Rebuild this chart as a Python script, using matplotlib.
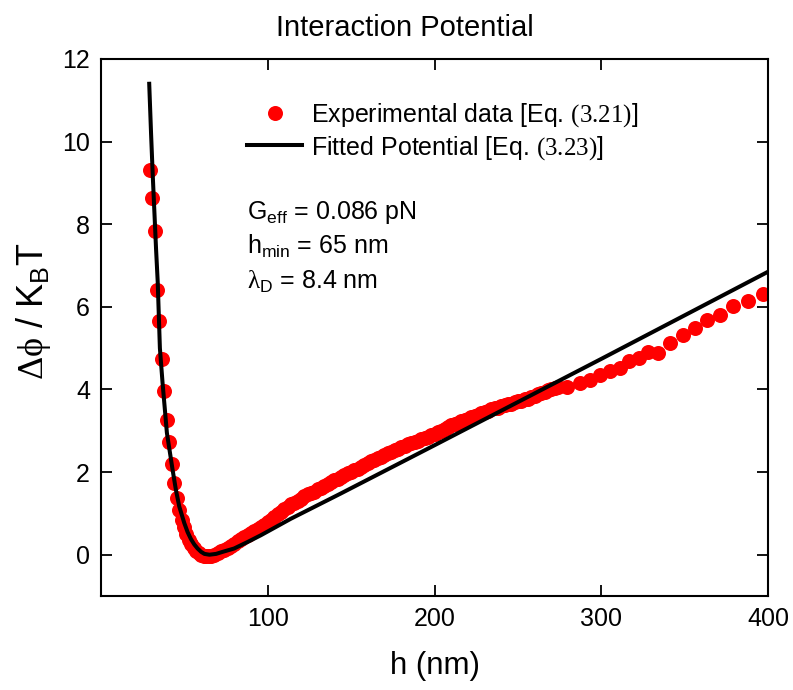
import numpy as np
import matplotlib
matplotlib.use("Agg")
import matplotlib.pyplot as plt

plt.rcParams['font.family'] = ['Liberation Sans', 'DejaVu Sans']
plt.rcParams['mathtext.fontset'] = 'custom'
plt.rcParams['mathtext.rm'] = 'Liberation Serif'
plt.rcParams['mathtext.sf'] = 'Liberation Sans'
plt.rcParams['mathtext.it'] = 'Liberation Sans:italic'

# experimental data, h (nm) and potential (kBT)
h_exp = [29.3, 30.5, 32.1, 33.5, 34.9, 36.3, 37.9, 39.5, 40.9, 42.5, 43.9, 45.5,
         46.9, 48.3, 49.7, 51.0, 52.5, 54.0, 55.5, 57.0, 58.5, 60.0, 61.5, 63.0,
         64.5,
         66, 68, 70, 72, 74, 76, 78, 80, 82, 84, 86, 88, 90, 92, 94, 96, 98,
         100, 102, 104, 106, 108, 110, 112, 114, 116, 118, 120, 122, 124, 126,
         128, 130, 132, 134, 136, 138, 140, 142, 144, 146, 148, 150, 152, 154,
         156, 158, 160, 162, 164, 166, 168, 170, 172, 174, 176, 178, 180, 182,
         184, 186, 188, 190, 192, 194, 196, 198, 200, 202, 204, 206, 208, 210,
         212, 214, 216, 218, 220, 222, 224, 226, 228, 230, 232, 234, 236, 238,
         240, 242, 244, 246, 248, 250, 252, 254, 256, 258, 260, 262, 264, 266,
         268, 270, 272, 274,
         279.4, 287.4, 293.4, 299.4, 305.4, 311.4, 316.4, 322.4,
         328.3, 334.3, 341.3, 349.3, 356.3, 363.3, 371.3, 379.2, 388.2, 397.2]
phi_exp = [9.32, 8.64, 7.83, 6.42, 5.65, 4.74, 3.97, 3.25, 2.72, 2.19, 1.74, 1.37,
           1.09, 0.85, 0.66, 0.50, 0.36, 0.25, 0.16, 0.08, 0.03, -0.01, -0.03, -0.04,
           -0.04,
           -0.03, 0.00, 0.04, 0.08, 0.12, 0.17, 0.22, 0.27, 0.32, 0.37, 0.42, 0.48,
           0.53, 0.57, 0.62, 0.68, 0.73, 0.79, 0.85, 0.92, 0.98, 1.04, 1.10, 1.16,
           1.22, 1.25, 1.30, 1.35, 1.41, 1.46, 1.50, 1.53, 1.58, 1.62, 1.67, 1.72,
           1.76, 1.80, 1.84, 1.87, 1.92, 1.97, 2.01, 2.04, 2.08, 2.12, 2.16, 2.22,
           2.26, 2.30, 2.34, 2.37, 2.42, 2.46, 2.49, 2.53, 2.56, 2.60, 2.63, 2.67,
           2.70, 2.73, 2.76, 2.79, 2.82, 2.86, 2.89, 2.92, 2.96, 3.00, 3.04, 3.08,
           3.13, 3.16, 3.20, 3.24, 3.27, 3.29, 3.33, 3.36, 3.39, 3.43, 3.45, 3.49,
           3.52, 3.54, 3.56, 3.59, 3.62, 3.64, 3.66, 3.69, 3.71, 3.73, 3.76, 3.78,
           3.81, 3.85, 3.89, 3.91, 3.94, 3.98, 4.02, 4.04, 4.05,
           4.07, 4.16, 4.24, 4.36, 4.44, 4.52, 4.68, 4.76,
           4.90, 4.88, 5.13, 5.33, 5.49, 5.67, 5.81, 6.01, 6.15, 6.30]

# fitted potential
h_fit = [28.9, 30.0, 31.0, 32.0, 33.0, 34.0, 35.3, 36.9, 39.5, 42.9, 44.9, 46.9,
         49.9, 51.9, 53.9, 55.9, 57.9, 60.0, 62.0, 65.0, 69.0, 73.0, 79.8, 88.0,
         95.8, 113.8, 143.7, 200.0, 300.0, 400.0]
phi_fit = [11.4, 10.2, 9.2, 8.3, 7.4, 6.6, 5.0, 4.16, 2.95, 2.06, 1.57, 1.17,
           0.77, 0.55, 0.38, 0.25, 0.15, 0.07, 0.02, 0.0, 0.02, 0.07, 0.15, 0.31,
           0.47, 0.87, 1.48, 2.65, 4.74, 6.85]

fig = plt.figure(figsize=(7.93, 6.90), dpi=100)
ax = fig.add_axes([0.1274, 0.1362, 0.8411, 0.7783])

ax.plot(h_exp, phi_exp, 'o', color='#ff0000', ms=10.8, mec='none',
        label=r'Experimental data [Eq. $\mathrm{(3.21)}$]')
ax.plot(h_fit, phi_fit, '-', color='black', lw=2.9,
        label=r'Fitted Potential [Eq. $\mathrm{(3.23)}$]')

ax.set_xlim(0, 400)
ax.set_ylim(-1, 12)
ax.set_xticks([100, 200, 300, 400])
ax.set_yticks([0, 2, 4, 6, 8, 10, 12])
ax.tick_params(direction='in', top=True, right=True, length=8, width=1.3,
               labelsize=18, pad=8)
for s in ax.spines.values():
    s.set_linewidth(1.5)

ax.set_xlabel('h (nm)', fontsize=22.5, labelpad=14)
ax.set_ylabel(r'$\mathrm{\Delta\phi}$ / K$_{\mathsf{B}}$T', fontsize=26)
ax.yaxis.set_label_coords(-0.072, 0.53)
fig.text(0.51, 0.948, 'Interaction Potential', fontsize=21, ha='center',
         va='baseline')

ax.legend(loc='upper left', bbox_to_anchor=(0.219, 0.922), frameon=False,
          fontsize=18, numpoints=1, handlelength=2.2, handletextpad=0.36,
          borderpad=0, borderaxespad=0, labelspacing=0.2)

ax.text(0.219, 0.702, r'G$_{\mathsf{eff}}$ = 0.086 pN', transform=ax.transAxes,
        fontsize=18, va='baseline')
ax.text(0.219, 0.637, r'h$_{\mathsf{min}}$ = 65 nm', transform=ax.transAxes,
        fontsize=18, va='baseline')
ax.text(0.219, 0.572, r'$\mathrm{\lambda}_{\mathsf{D}}$ = 8.4 nm', transform=ax.transAxes,
        fontsize=18, va='baseline')

fig.savefig('out.png', dpi=100)
